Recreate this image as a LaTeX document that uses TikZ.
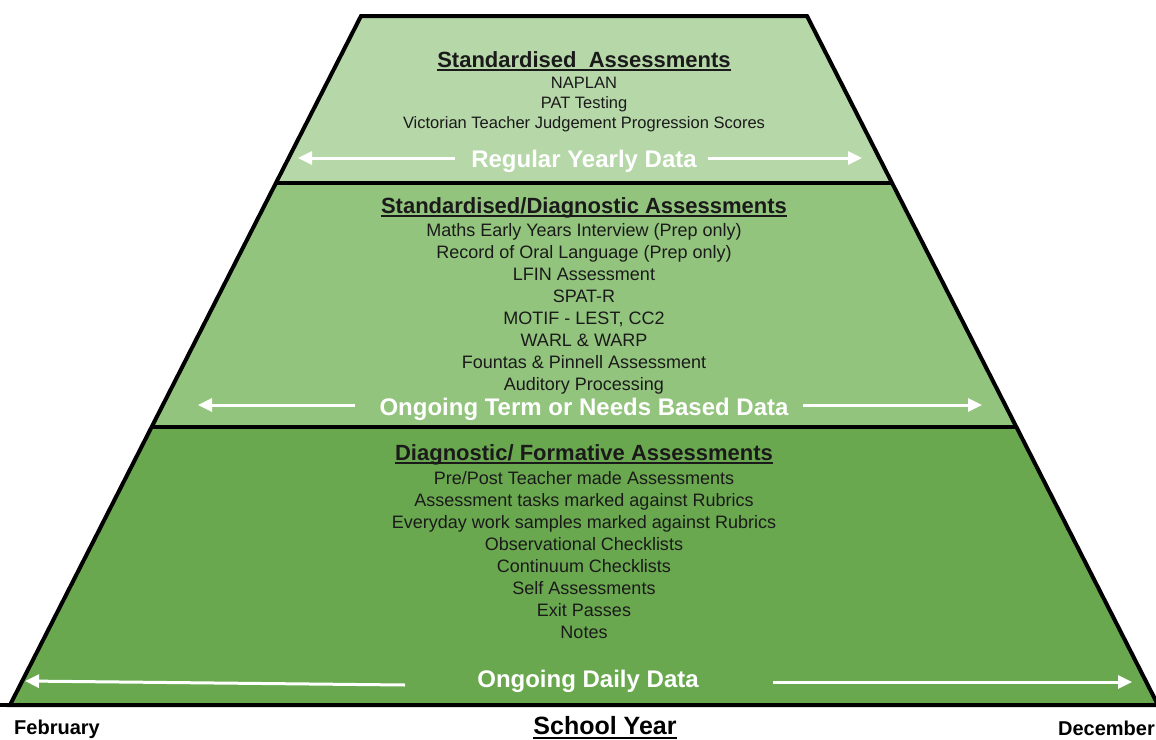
\documentclass[tikz,border=0pt]{standalone}
\usepackage{fontspec}
\setmainfont{Liberation Sans}
\usetikzlibrary{arrows.meta,calc}
\definecolor{gA}{HTML}{B6D7A8}
\definecolor{gB}{HTML}{93C47D}
\definecolor{gC}{HTML}{6AA84F}
\definecolor{ink}{HTML}{1A1A1A}
\newcommand\ulx[1]{\setbox0\hbox{#1}\rlap{\rule[-0.15em]{\wd0}{0.08em}}\box0}
\tikzset{
  base/.style={inner sep=0pt,text depth=0pt},
  itemS/.style={base,text height=11.8pt,text=ink,font=\fontsize{16.5}{19}\selectfont},
  item/.style={base,text height=12.9pt,text=ink,font=\fontsize{18}{21}\selectfont},
  ttl/.style={base,text height=15.8pt,text=ink,font=\fontsize{22}{26}\selectfont\bfseries},
  wlab/.style={base,text height=17.2pt,text=white,font=\fontsize{24}{28}\selectfont\bfseries},
  blab/.style={base,text height=14.3pt,text=black,font=\fontsize{20}{24}\selectfont\bfseries},
  warrow/.style={draw=white,line width=3pt,-{Triangle[length=14pt,width=13pt]}},
  edge/.style={draw=black,line width=4pt,line join=miter}
}
\begin{document}
\begin{tikzpicture}[x=1pt,y=-1pt]
\useasboundingbox (0,0) rectangle (1156,739);
\clip (0,0) rectangle (1156,739);
\fill[white] (0,0) rectangle (1156,739);
\coordinate (A) at (361,16);
\coordinate (B) at (807,16);
\coordinate (C) at (1158,705);
\coordinate (D) at (10,705);
\coordinate (L1) at ($(A)!0.2424!(D)$);
\coordinate (R1) at ($(B)!0.2424!(C)$);
\coordinate (L2) at ($(A)!0.5965!(D)$);
\coordinate (R2) at ($(B)!0.5965!(C)$);
\fill[gA] (A) -- (B) -- (R1) -- (L1) -- cycle;
\fill[gB] (L1) -- (R1) -- (R2) -- (L2) -- cycle;
\fill[gC] (L2) -- (R2) -- (C) -- (D) -- cycle;
\draw[edge] (A) -- (B) -- (C) -- (D) -- cycle;
\draw[edge] (L1) -- (R1);
\draw[edge] (L2) -- (R2);
\draw[edge] (0,705) -- (1156,705);
% top band
\node[ttl] (t1) at (584,60) {\ulx{Standardised\ \ Assessments}};
\foreach \t [count=\i] in {NAPLAN,PAT Testing,Victorian Teacher Judgement Progression Scores}
  \node[itemS] (a\i) at (584,{82.5+20*(\i-1)}) {\t};
\node[wlab] (ry) at (584,159) {Regular Yearly Data};
\coordinate (ryl) at (298,158);
\coordinate (ryr) at (862,158);
\draw[warrow] (455,158) -- (ryl);
\draw[warrow] (708,158) -- (ryr);
% middle band
\node[ttl] (t2) at (584,206) {\ulx{Standardised/Diagnostic Assessments}};
\foreach \t [count=\i] in {Maths Early Years Interview (Prep only),Record of Oral Language (Prep only),LFIN Assessment,SPAT-R,{MOTIF - LEST, CC2},WARL \& WARP,Fountas \& Pinnell Assessment,Auditory Processing}
  \node[item] (b\i) at (584,{230+22*(\i-1)}) {\t};
\node[wlab] (ot) at (584,407) {Ongoing Term or Needs Based Data};
\coordinate (otl) at (198,405);
\coordinate (otr) at (982,405);
\draw[warrow] (355,405) -- (otl);
\draw[warrow] (803,405) -- (otr);
% bottom band
\node[ttl] (t3) at (584,453) {\ulx{Diagnostic/ Formative Assessments}};
\foreach \t [count=\i] in {Pre/Post Teacher made Assessments,Assessment tasks marked against Rubrics,Everyday work samples marked against Rubrics,Observational Checklists,Continuum Checklists,Self Assessments,Exit Passes,Notes}
  \node[item] (c\i) at (584,{478+22*(\i-1)}) {\t};
\node[wlab] (od) at (588,679) {Ongoing Daily Data};
\coordinate (odl) at (25,681);
\coordinate (odr) at (1132,682);
\draw[warrow] (405,685) -- (odl);
\draw[warrow] (773,682) -- (odr);
% axis labels
\node[blab,anchor=west] (feb) at (14,727) {February};
\node[blab,anchor=east] (dec) at (1155,728) {December};
\node[wlab,text=black,text height=17.9pt,font=\fontsize{25}{29}\selectfont\bfseries] (sy) at (605,726) {\ulx{School Year}};
\end{tikzpicture}
\end{document}
